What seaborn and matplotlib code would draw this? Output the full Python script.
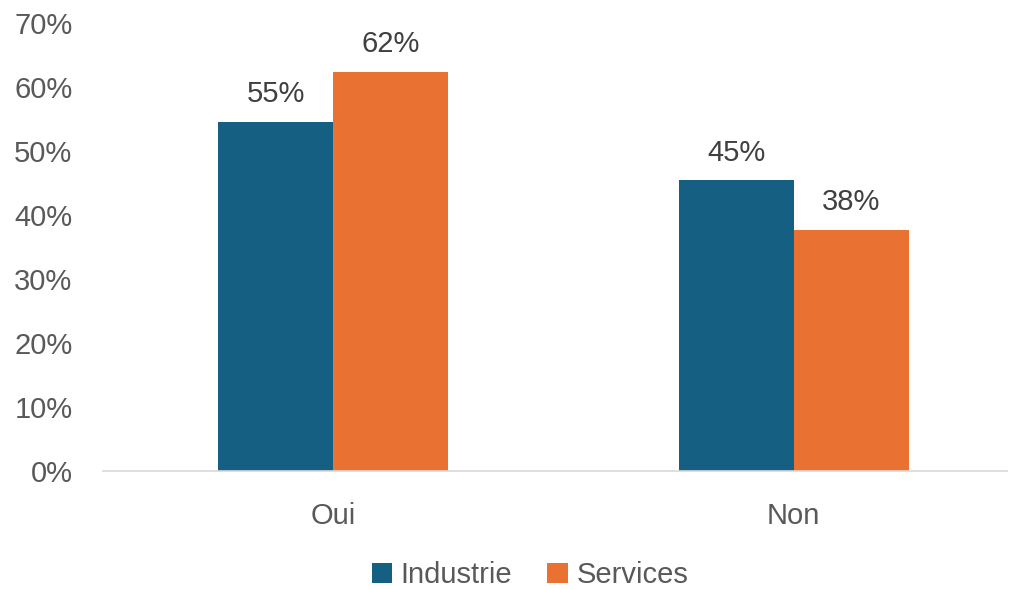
import matplotlib
matplotlib.use("Agg")
import matplotlib.pyplot as plt
import matplotlib.ticker as mticker
import pandas as pd
import seaborn as sns

categories = ["Oui", "Non"]
series = ["Industrie", "Services"]
industrie = [0.546, 0.454]
services = [0.623, 0.377]
colors = ["#156082", "#E97132"]

df = pd.DataFrame({
    "reponse": categories * 2,
    "secteur": [series[0]] * 2 + [series[1]] * 2,
    "part": industrie + services,
})

sns.set_style("white")
plt.rcParams["font.family"] = ["Liberation Sans", "DejaVu Sans"]

fig = plt.figure(figsize=(10.11, 5.89), dpi=100)
ax = fig.add_axes([103 / 1011, 1 - 471 / 589, (1007 - 103) / 1011, (471 - 23) / 589])

sns.barplot(data=df, x="reponse", y="part", hue="secteur", palette=colors,
            width=0.5, saturation=1, linewidth=0, ax=ax, legend=True)

ax.set_ylim(0, 0.7)
ax.set_xlim(-0.5, 1.463)
ax.yaxis.set_major_locator(mticker.MultipleLocator(0.1))
ax.yaxis.set_major_formatter(mticker.PercentFormatter(1.0, decimals=0))
ax.set_xlabel("")
ax.set_ylabel("")

for s in ["top", "right", "left"]:
    ax.spines[s].set_visible(False)
ax.spines["bottom"].set_color("#d9d9d9")
ax.spines["bottom"].set_linewidth(1.2)

ax.tick_params(axis="y", length=0, pad=22, labelsize=21, labelcolor="#595959")
ax.tick_params(axis="x", length=0, pad=22, labelsize=21, labelcolor="#595959")

for cont in ax.containers:
    ax.bar_label(cont, labels=[f"{v:.0%}" for v in cont.datavalues],
                 padding=10, fontsize=21, color="#404040")

handles, labels = ax.get_legend_handles_labels()
ax.get_legend().remove()
fig.legend(handles, labels, loc="center", bbox_to_anchor=(530 / 1011, 1 - 575 / 589),
           ncol=2, frameon=False, fontsize=21, labelcolor="#595959",
           handlelength=0.7, handleheight=0.7, handletextpad=0.3, columnspacing=1.2)

fig.savefig("out.png", dpi=100)
